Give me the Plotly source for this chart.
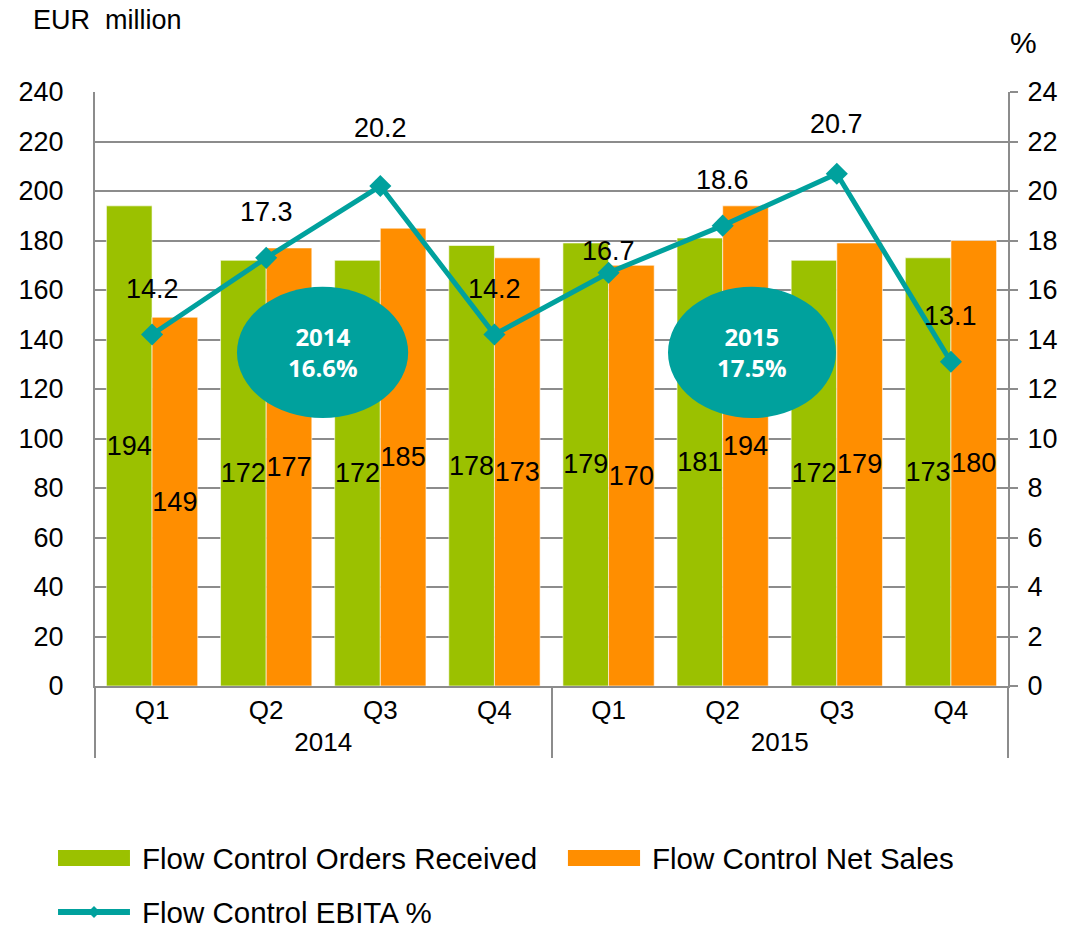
import plotly.graph_objects as go

years = ["2014"] * 4 + ["2015"] * 4
quarters = ["Q1", "Q2", "Q3", "Q4"] * 2
orders = [194, 172, 172, 178, 179, 181, 172, 173]
net_sales = [149, 177, 185, 173, 170, 194, 179, 180]
ebita = [14.2, 17.3, 20.2, 14.2, 16.7, 18.6, 20.7, 13.1]
ebita_label_shift = [46, 46, 58, 46, 22, 46, 50, 46]
year_summary = [("2014", "16.6%"), ("2015", "17.5%")]

GREEN = "rgb(155,193,0)"
ORANGE = "rgb(255,142,0)"
TEAL = "rgb(0,161,157)"
GRID = "rgb(140,140,140)"
FONT = "Liberation Sans, Arial, sans-serif"
FS = 27

x = [years, quarters]

fig = go.Figure()
fig.add_trace(go.Bar(
    x=x, y=orders, name="Flow Control Orders Received",
    marker=dict(color=GREEN, line=dict(color="rgba(255,255,255,0.6)", width=1)),
    text=[str(v) for v in orders], textposition="inside", insidetextanchor="middle",
    textangle=0, constraintext="none", cliponaxis=False,
    textfont=dict(family=FONT, size=FS, color="black"),
))
fig.add_trace(go.Bar(
    x=x, y=net_sales, name="Flow Control Net Sales",
    marker=dict(color=ORANGE, line=dict(color="rgba(255,255,255,0.6)", width=1)),
    text=[str(v) for v in net_sales], textposition="inside", insidetextanchor="middle",
    textangle=0, constraintext="none", cliponaxis=False,
    textfont=dict(family=FONT, size=FS, color="black"),
))
fig.add_trace(go.Scatter(
    x=x, y=ebita, name="Flow Control EBITA %", yaxis="y2",
    mode="lines+markers",
    line=dict(color=TEAL, width=5),
    marker=dict(symbol="diamond", size=17, color=TEAL),
))

annotations = []
for i, (v, s) in enumerate(zip(ebita, ebita_label_shift)):
    annotations.append(dict(
        x=i, y=v, xref="x", yref="y2", text=f"{v:.1f}", showarrow=False,
        xanchor="center", yshift=s, font=dict(family=FONT, size=FS, color="black"),
    ))

# Year summary ellipses
ell_pos = [(0.1555, 0.343), (0.6276, 0.8116)]
shapes = []
for (x0, x1), (yr, pct) in zip(ell_pos, year_summary):
    shapes.append(dict(type="circle", xref="paper", yref="paper",
                       x0=x0, x1=x1, y0=0.451, y1=0.672,
                       fillcolor=TEAL, line=dict(width=0), layer="above"))
    annotations.append(dict(x=(x0 + x1) / 2, y=0.562, xref="paper", yref="paper",
                            xanchor="center", yanchor="middle", align="center",
                            text=f"<b>{yr}<br>{pct}</b>", showarrow=False,
                            font=dict(family="Open Sans, sans-serif", size=24, color="white")))

# Axis unit titles
annotations.append(dict(x=-0.070, y=1.121, xref="paper", yref="paper", text="EUR  million",
                        showarrow=False, xanchor="left", yanchor="middle",
                        font=dict(family=FONT, size=FS, color="black")))
annotations.append(dict(x=1.0165, y=1.084, xref="paper", yref="paper", text="%",
                        showarrow=False, xanchor="center", yanchor="middle",
                        font=dict(family=FONT, size=30, color="black")))

# Custom legend
LFS = 29.5
shapes.append(dict(type="rect", xref="paper", yref="paper", x0=-0.0405, x1=0.0383,
                   y0=-0.303, y1=-0.276, fillcolor=GREEN, line=dict(width=0)))
annotations.append(dict(x=0.0493, y=-0.2896, xref="paper", yref="paper",
                        text="Flow Control Orders Received", showarrow=False,
                        xanchor="left", yanchor="middle",
                        font=dict(family=FONT, size=LFS, color="black")))
shapes.append(dict(type="rect", xref="paper", yref="paper", x0=0.518, x1=0.597,
                   y0=-0.303, y1=-0.276, fillcolor=ORANGE, line=dict(width=0)))
annotations.append(dict(x=0.608, y=-0.2896, xref="paper", yref="paper",
                        text="Flow Control Net Sales", showarrow=False,
                        xanchor="left", yanchor="middle",
                        font=dict(family=FONT, size=LFS, color="black")))
shapes.append(dict(type="line", xref="paper", yref="paper", x0=-0.0405, x1=0.0383,
                   y0=-0.3805, y1=-0.3805, line=dict(color=TEAL, width=6)))
cx, cy, dx, dy = -0.0011, -0.3805, 0.0066, 0.0101
shapes.append(dict(type="path", xref="paper", yref="paper",
                   path=f"M {cx-dx},{cy} L {cx},{cy+dy} L {cx+dx},{cy} L {cx},{cy-dy} Z",
                   fillcolor=TEAL, line=dict(width=0)))
annotations.append(dict(x=0.0493, y=-0.3805, xref="paper", yref="paper",
                        text="Flow Control EBITA %", showarrow=False,
                        xanchor="left", yanchor="middle",
                        font=dict(family=FONT, size=LFS, color="black")))

fig.update_layout(
    width=1091, height=929,
    margin=dict(l=95, r=83, t=92, b=243),
    paper_bgcolor="white", plot_bgcolor="white",
    barmode="group", bargap=0.2, bargroupgap=0,
    showlegend=False,
    font=dict(family=FONT, size=FS, color="black"),
    xaxis=dict(type="multicategory", showline=True, linecolor=GRID, linewidth=2,
               showgrid=False, showdividers=True, dividercolor=GRID, dividerwidth=2,
               automargin=False,
               tickfont=dict(family=FONT, size=26, color="black"), ticks=""),
    yaxis=dict(range=[0, 240], dtick=20, showgrid=True, gridcolor=GRID, gridwidth=2,
               showline=True, linecolor=GRID, linewidth=2, ticks="",
               ticklabelstandoff=24, zeroline=False, automargin=False,
               tickfont=dict(family=FONT, size=FS, color="black")),
    yaxis2=dict(range=[0, 24], dtick=2, overlaying="y", side="right", showgrid=False,
                showline=True, linecolor=GRID, linewidth=2, ticks="outside",
                ticklen=8, tickcolor=GRID, tickwidth=2, zeroline=False,
                ticklabelstandoff=4, automargin=False,
                tickfont=dict(family=FONT, size=FS, color="black")),
    annotations=annotations, shapes=shapes,
)

fig.write_html("out.html", config={"displayModeBar": False},
               post_script="document.body.style.margin='0';document.body.style.overflow='hidden';")
